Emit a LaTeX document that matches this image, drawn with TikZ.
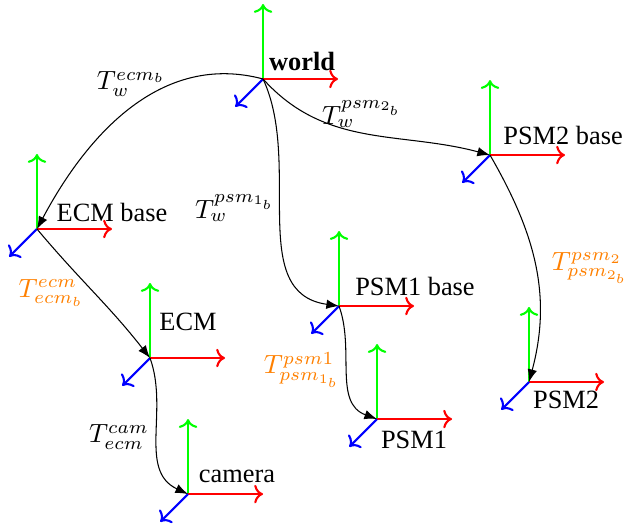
\documentclass[tikz,border=0pt]{standalone}
\usepackage{fontspec}
\setmainfont{Liberation Serif}
\usepackage{amsmath}
\usetikzlibrary{arrows.meta,positioning,calc}

\begin{document}
\begin{tikzpicture}
    \useasboundingbox (0, 0) rectangle (8.373, -7.053);

    % Frames: origin and x/y/z axes
    \foreach \name/\x/\y in {world/3.507/-1.053, psmtwobase/6.533/-2.067,
        ecmbase/0.493/-3.053, psmonebase/4.52/-4.08, ecm/2.0/-4.773,
        camera/2.507/-6.587, psmone/5.027/-5.587, psmtwo/7.053/-5.093} {
        \coordinate (\name) at (\x, \y);
        \draw[thick, green, ->] (\name) -- ++(0, 1);
        \draw[thick, red, ->] (\name) -- ++(1, 0);
        \draw[thick, blue, ->] (\name) -- ++(-0.37, -0.37);
    }

    % Frame names
    \node[inner sep=0] (worldlabel) at (4.027, -0.813) {\textbf{world}};
    \node[inner sep=0] (ecmbaselabel) at (1.493, -2.827) {ECM base};
    \node[inner sep=0] (psmtwobaselabel) at (7.507, -1.8) {PSM2 base};
    \node[inner sep=0] (psmonebaselabel) at (5.533, -3.813) {PSM1 base};
    \node[inner sep=0] (ecmlabel) at (2.507, -4.293) {ECM};
    \node[inner sep=0] (cameralabel) at (3.16, -6.347) {camera};
    \node[inner sep=0] (psmonelabel) at (5.52, -5.867) {PSM1};
    \node[inner sep=0] (psmtwolabel) at (7.547, -5.333) {PSM2};

    % Transformations
    \draw[-{Latex}] (world) to[out=165, in=62] (ecmbase);
    \draw[-{Latex}] (world) to[out=-48, in=165] (psmtwobase);
    \draw[-{Latex}] (world) to[out=-65, in=172] (psmonebase);
    \draw[-{Latex}] (ecmbase) to[out=-50, in=128] (ecm);
    \draw[-{Latex}] (ecm) to[out=-70, in=155] (camera);
    \draw[-{Latex}] (psmonebase) to[out=-70, in=160] (psmone);
    \draw[-{Latex}] (psmtwobase) to[out=-60, in=75] (psmtwo);

    \node (twecm) at (1.747, -1.12) {$T_w^{ecm_b}$};
    \node (twpsmtwo) at (4.827, -1.52) {$T_w^{psm_{2_b}}$};
    \node (twpsmone) at (3.133, -2.773) {$T_w^{psm_{1_b}}$};
    \node[text=orange] (tecm) at (0.68, -3.907) {$T_{ecm_b}^{ecm}$};
    \node[text=orange] (tpsmtwo) at (7.867, -3.573) {$T_{psm_{2_b}}^{psm_2}$};
    \node[text=orange] (tpsmone) at (4.027, -4.933) {$T_{psm_{1_b}}^{psm1}$};
    \node (tcam) at (1.587, -5.827) {$T_{ecm}^{cam}$};
\end{tikzpicture}
\end{document}
